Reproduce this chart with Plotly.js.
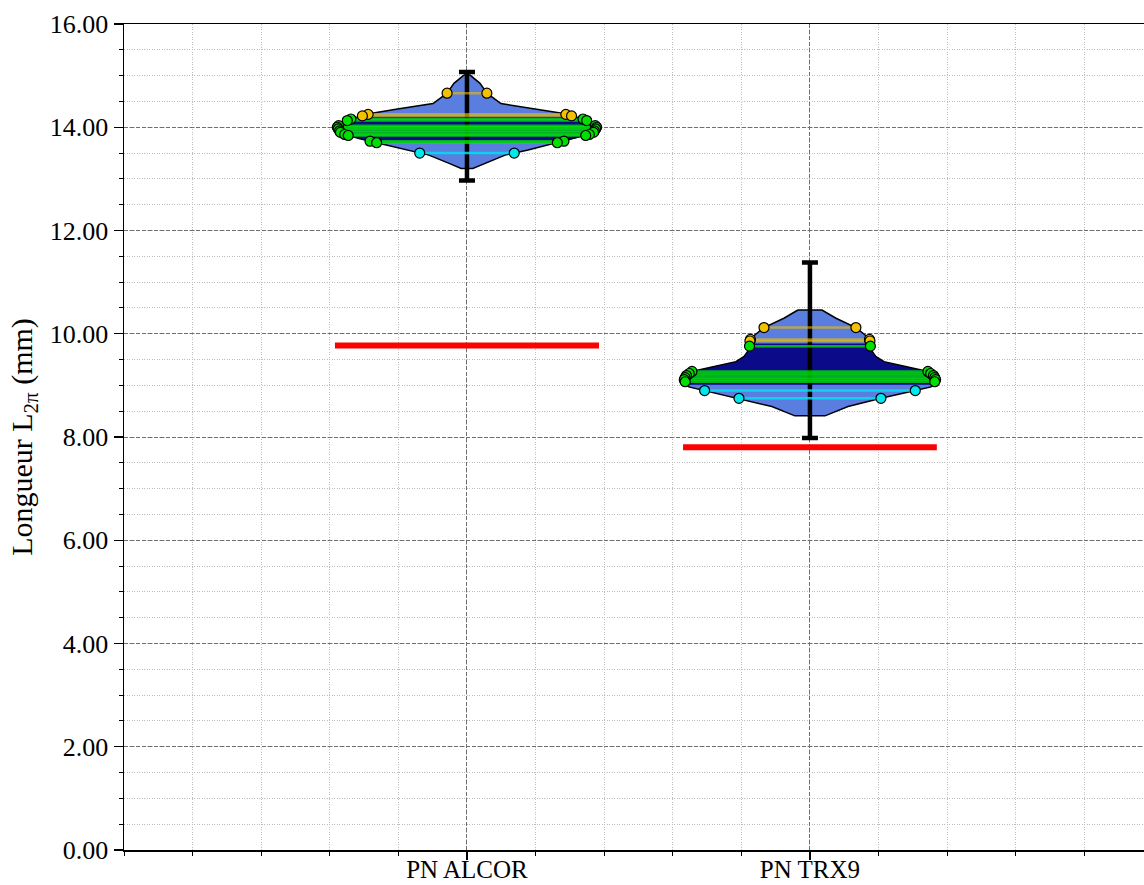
<!DOCTYPE html>
<html><head><meta charset="utf-8">
<script src="https://cdn.plot.ly/plotly-3.0.1.min.js"></script>
<style>html,body{margin:0;padding:0;background:#fff}#chart{width:1144px;height:885px}</style>
</head><body><div id="chart"></div>
<script>
// ---- data ----
const categories = ['PN ALCOR', 'PN TRX9'];
const catPositions = [1, 2];

// violin density profiles (value, half-width in category units)
const alcorProfileY = [15.01, 14.85, 14.66, 14.46, 14.35, 14.27, 14.15, 14.01, 13.88, 13.78, 13.69, 13.56, 13.46, 13.30, 13.20];
const alcorProfileW = [0.009, 0.038, 0.058, 0.099, 0.207, 0.277, 0.344, 0.379, 0.367, 0.315, 0.257, 0.178, 0.111, 0.052, 0.017];
const trxProfileY = [10.46, 10.30, 10.12, 9.98, 9.88, 9.81, 9.69, 9.56, 9.46, 9.36, 9.27, 9.18, 9.10, 8.97, 8.88, 8.75, 8.59, 8.41];
const trxProfileW = [0.035, 0.076, 0.134, 0.160, 0.175, 0.175, 0.178, 0.192, 0.216, 0.286, 0.344, 0.362, 0.367, 0.353, 0.294, 0.207, 0.111, 0.044];

// inner (dark) band
const alcorBand = [13.70, 14.21];
const trxBand = [9.01, 9.81];

// error-bar ranges
const alcorRange = [12.97, 15.07];
const trxRange = [7.98, 11.38];

// reference (red) values and their half-lengths
const refValues = [9.77, 7.80];
const refHalfLen = [0.385, 0.37];

// individual measurements grouped by colour
const alcorHigh = [14.66, 14.25, 14.22];
const alcorMid = [14.16, 14.13, 14.03, 14.00, 13.97, 13.93, 13.90, 13.86, 13.84, 13.73, 13.70];
const alcorLow = [13.50];
const trxHigh = [10.12, 9.89, 9.86];
const trxMid = [9.76, 9.27, 9.23, 9.19, 9.15, 9.11, 9.07];
const trxLow = [8.90, 8.75];

const yTickVals = [0, 2, 4, 6, 8, 10, 12, 14, 16];

// ---- styles ----
const lightFill = '#5a7de0';
const darkFill = '#0b0b8a';
const grpStyle = {
  high: {line: 'rgba(240,190,0,0.6)', marker: '#f2c200'},
  mid: {line: 'rgba(0,235,0,0.75)', marker: '#00e000'},
  low: {line: 'rgba(0,225,240,0.85)', marker: '#00e8ec'}
};

function hwAt(py, pw, v) {
  if (v >= py[0]) return pw[0];
  for (let i = 0; i < py.length - 1; i++) {
    if (v <= py[i] && v >= py[i + 1]) {
      const t = (py[i] - v) / (py[i] - py[i + 1]);
      return pw[i] + t * (pw[i + 1] - pw[i]);
    }
  }
  return pw[pw.length - 1];
}

const violins = [
  {pos: catPositions[0], py: alcorProfileY, pw: alcorProfileW, band: alcorBand, range: alcorRange,
   ref: refValues[0], refHalf: refHalfLen[0], groups: {high: alcorHigh, mid: alcorMid, low: alcorLow}},
  {pos: catPositions[1], py: trxProfileY, pw: trxProfileW, band: trxBand, range: trxRange,
   ref: refValues[1], refHalf: refHalfLen[1], groups: {high: trxHigh, mid: trxMid, low: trxLow}}
];

const traces = [];
function polygon(pos, ys, ws) {
  const x = [], y = [];
  ys.forEach((v, i) => { x.push(pos - ws[i]); y.push(v); });
  for (let i = ys.length - 1; i >= 0; i--) { x.push(pos + ws[i]); y.push(ys[i]); }
  x.push(x[0]); y.push(y[0]);
  return {x, y};
}

// light fills
violins.forEach(v => {
  const p = polygon(v.pos, v.py, v.pw);
  traces.push({type: 'scatter', mode: 'lines', x: p.x, y: p.y, fill: 'toself', fillcolor: lightFill,
    line: {width: 0, color: lightFill}, hoverinfo: 'skip', showlegend: false});
});
// dark bands
violins.forEach(v => {
  const [lo, hi] = v.band;
  const ys = [hi].concat(v.py.filter(y => y < hi && y > lo)).concat([lo]);
  const ws = ys.map(y => hwAt(v.py, v.pw, y));
  const p = polygon(v.pos, ys, ws);
  traces.push({type: 'scatter', mode: 'lines', x: p.x, y: p.y, fill: 'toself', fillcolor: darkFill,
    line: {width: 0, color: darkFill}, hoverinfo: 'skip', showlegend: false});
});
// outlines
violins.forEach(v => {
  const p = polygon(v.pos, v.py, v.pw);
  traces.push({type: 'scatter', mode: 'lines', x: p.x, y: p.y,
    line: {width: 1.5, color: '#000'}, hoverinfo: 'skip', showlegend: false});
});
// error bars
violins.forEach(v => {
  const [lo, hi] = v.range;
  traces.push({type: 'scatter', mode: 'markers', x: [v.pos], y: [(lo + hi) / 2],
    marker: {size: 1, color: 'rgba(0,0,0,0)'},
    error_y: {type: 'data', symmetric: true, array: [(hi - lo) / 2], color: '#000', thickness: 4.5, width: 8},
    hoverinfo: 'skip', showlegend: false});
});
// connecting lines
['high', 'mid', 'low'].forEach(g => {
  const x = [], y = [];
  violins.forEach(v => {
    v.groups[g].forEach(val => {
      const w = hwAt(v.py, v.pw, val);
      x.push(v.pos - w, v.pos + w, null); y.push(val, val, null);
    });
  });
  traces.push({type: 'scatter', mode: 'lines', x, y, line: {width: 2.5, color: grpStyle[g].line},
    hoverinfo: 'skip', showlegend: false, connectgaps: false});
});
// points
['high', 'mid', 'low'].forEach(g => {
  const x = [], y = [];
  violins.forEach(v => {
    v.groups[g].forEach(val => {
      const w = hwAt(v.py, v.pw, val);
      x.push(v.pos - w, v.pos + w); y.push(val, val);
    });
  });
  traces.push({type: 'scatter', mode: 'markers', x, y,
    marker: {size: 10, color: grpStyle[g].marker, line: {width: 1.2, color: '#000'}},
    showlegend: false});
});
// red reference lines
violins.forEach(v => {
  traces.push({type: 'scatter', mode: 'lines', x: [v.pos - v.refHalf, v.pos + v.refHalf], y: [v.ref, v.ref],
    line: {width: 6, color: '#ff0000'}, hoverinfo: 'skip', showlegend: false});
});

const fontFam = 'Liberation Serif, Times New Roman, serif';
const majorDash = '4px,2px';
const minorDash = '1px,1.5px';
const layout = {
  width: 1144, height: 885,
  margin: {l: 124, r: 0, t: 24, b: 35},
  paper_bgcolor: '#fff', plot_bgcolor: '#fff',
  font: {family: fontFam, size: 26, color: '#000'},
  showlegend: false,
  xaxis: {
    range: [0, 2.974], tickmode: 'array', tickvals: catPositions, ticktext: categories,
    ticks: 'outside', ticklen: 8, tickwidth: 1.3, tickcolor: '#000',
    ticklabelstandoff: -12,
    showline: true, linecolor: '#000', linewidth: 1.5, mirror: true,
    showgrid: true, gridcolor: '#6f6f6f', griddash: majorDash, gridwidth: 1,
    zeroline: false,
    tickfont: {family: fontFam, size: 25},
    minor: {tickmode: 'linear', tick0: 0, dtick: 0.2, ticks: 'outside', ticklen: 4, tickcolor: '#000', tickwidth: 1,
      showgrid: true, gridcolor: '#bdbdbd', griddash: minorDash, gridwidth: 1}
  },
  yaxis: {
    range: [0, 16], tickmode: 'array', tickvals: yTickVals, tickformat: '.2f',
    ticks: 'outside', ticklen: 9, tickwidth: 1.3, tickcolor: '#000',
    showline: true, linecolor: '#000', linewidth: 1.5,
    showgrid: true, gridcolor: '#6f6f6f', griddash: majorDash, gridwidth: 1,
    zeroline: false,
    tickfont: {family: fontFam, size: 26},
    title: {text: 'Longueur L<sub>2π</sub> (mm)', font: {family: fontFam, size: 30}, standoff: 8},
    minor: {tickmode: 'linear', tick0: 0, dtick: 0.5, ticks: 'outside', ticklen: 4, tickcolor: '#000', tickwidth: 1,
      showgrid: true, gridcolor: '#bdbdbd', griddash: minorDash, gridwidth: 1}
  }
};

Plotly.newPlot('chart', traces, layout, {staticPlot: true, displayModeBar: false});
</script>
</body></html>
